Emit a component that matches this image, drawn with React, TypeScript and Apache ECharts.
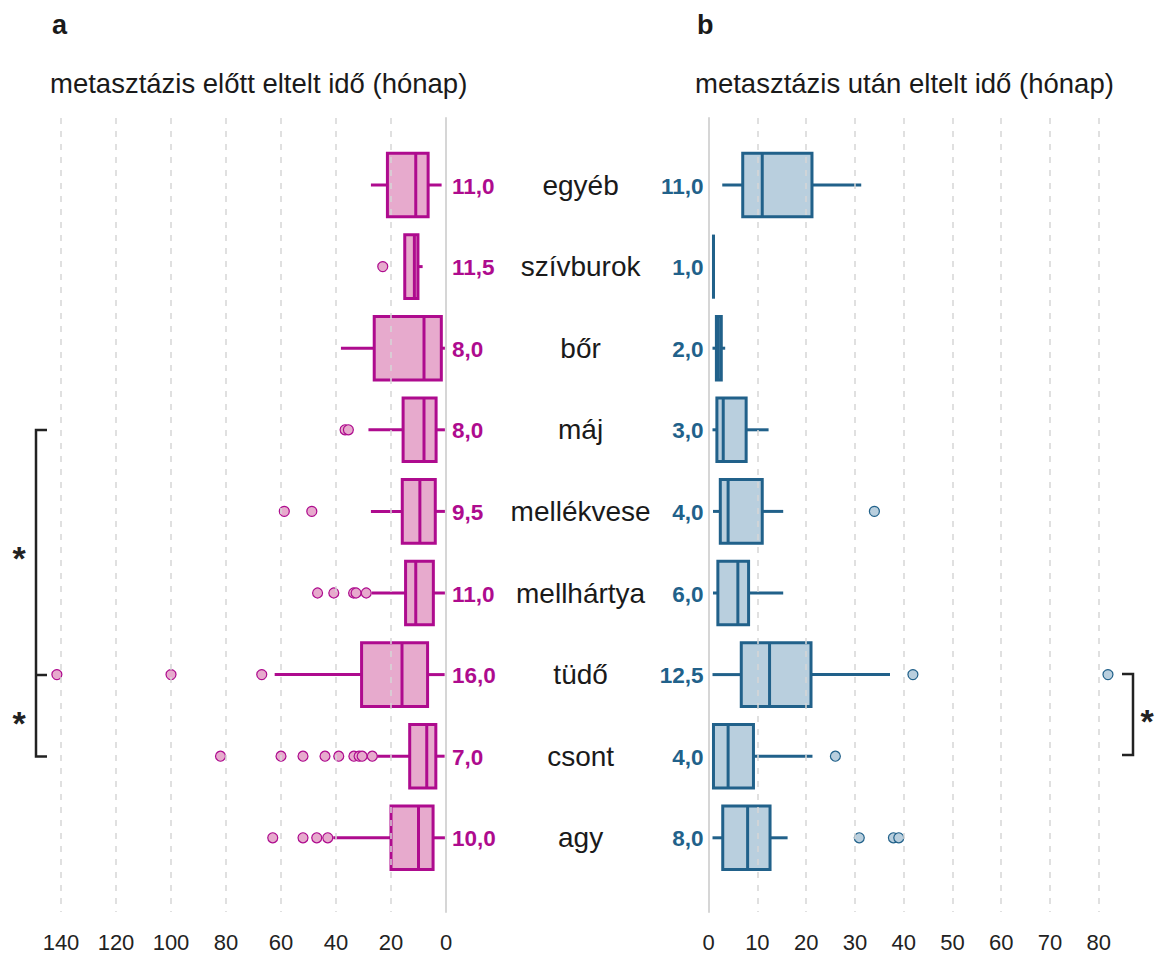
import React, { useEffect, useRef } from 'react';
import * as echarts from 'echarts';

const categories = ['egyéb', 'szívburok', 'bőr', 'máj', 'mellékvese', 'mellhártya', 'tüdő', 'csont', 'agy'];

// a: time before metastasis (months)
const beforeLow = [1.6, 8.5, 0.4, 0.4, 0.4, 0.4, 0.5, 0.5, 0.4];
const beforeQ1 = [6.5, 10.2, 1.7, 3.6, 3.9, 4.6, 6.7, 3.7, 4.7];
const beforeMedian = [11.0, 11.5, 8.0, 8.0, 9.5, 11.0, 16.0, 7.0, 10.0];
const beforeQ3 = [21.3, 15.0, 26.1, 15.6, 15.9, 14.7, 30.7, 13.2, 20.0];
const beforeHigh = [27.3, 15.0, 38.2, 28.2, 27.3, 27.0, 62.3, 25.9, 41.0];
const beforeOutliers: number[][] = [
  [],
  [23],
  [],
  [36.7, 35.5],
  [58.8, 48.8],
  [46.7, 40.8, 33.6, 32.7, 29.0],
  [141.5, 100, 67],
  [82, 60, 52, 44, 39, 33.5, 31.6, 30.5, 26.8],
  [63, 52, 47, 43],
];

// b: time after metastasis (months)
const afterLow = [2.8, 1.0, 0.8, 0.8, 0.9, 0.9, 0.8, 1.0, 0.8];
const afterQ1 = [7.0, 1.0, 1.6, 1.7, 2.4, 1.9, 6.7, 1.0, 2.9];
const afterMedian = [11.0, 1.0, 2.0, 3.0, 4.0, 6.0, 12.5, 4.0, 8.0];
const afterQ3 = [21.2, 1.0, 2.6, 7.7, 11.0, 8.2, 21.0, 9.2, 12.6];
const afterHigh = [31.3, 1.0, 3.4, 12.3, 15.3, 15.3, 37.2, 21.3, 16.2];
const afterOutliers: number[][] = [
  [],
  [],
  [],
  [],
  [34.0],
  [],
  [41.9, 81.9],
  [26.0],
  [30.9, 37.9, 39.0],
];

const leftTicks = { min: 0, max: 140, interval: 20 };
const rightTicks = { min: 0, max: 80, interval: 10 };

const FONT = '"Liberation Sans", Arial, Helvetica, sans-serif';
const PINK = '#ae0b8e';
const PINK_FILL = '#e7aacd';
const BLUE = '#21618a';
const BLUE_FILL = '#b9cfde';
const GRID_COLOR = '#d6d6d6';

const fmt = (v: number) => v.toFixed(1).replace('.', ',');

function makeRenderItem(stroke: string, fill: string, side: 'left' | 'right') {
  return (params: any, api: any) => {
    const idx = api.value(0);
    const low = api.value(1);
    const q1 = api.value(2);
    const med = api.value(3);
    const q3 = api.value(4);
    const high = api.value(5);
    const pLow = api.coord([low, idx]);
    const pQ1 = api.coord([q1, idx]);
    const pMed = api.coord([med, idx]);
    const pQ3 = api.coord([q3, idx]);
    const pHigh = api.coord([high, idx]);
    const p0 = api.coord([0, idx]);
    const band = api.size([0, 1])[1];
    const h = band * 0.78;
    const cy = pMed[1];
    const bx = Math.min(pQ1[0], pQ3[0]);
    const bw = Math.abs(pQ3[0] - pQ1[0]);
    const lw = 3;
    const children: any[] = [
      { type: 'line', shape: { x1: pLow[0], y1: cy, x2: pQ1[0], y2: cy }, style: { stroke, lineWidth: lw } },
      { type: 'line', shape: { x1: pQ3[0], y1: cy, x2: pHigh[0], y2: cy }, style: { stroke, lineWidth: lw } },
      { type: 'rect', shape: { x: bx, y: cy - h / 2, width: bw, height: h }, style: { fill, stroke, lineWidth: lw } },
      { type: 'line', shape: { x1: pMed[0], y1: cy - h / 2, x2: pMed[0], y2: cy + h / 2 }, style: { stroke, lineWidth: lw } },
      {
        type: 'text',
        style: {
          text: fmt(med),
          x: side === 'left' ? p0[0] + 6 : p0[0] - 5,
          y: cy + 1,
          align: side === 'left' ? 'left' : 'right',
          verticalAlign: 'middle',
          textAlign: side === 'left' ? 'left' : 'right',
          textVerticalAlign: 'middle',
          fill: stroke,
          font: `bold 22.5px ${FONT}`,
        },
      },
    ];
    return { type: 'group', children };
  };
}

const overlayAxisCommon = {
  type: 'value' as const,
  z: 10,
  axisLine: { show: false },
  axisTick: { show: false },
  axisLabel: { color: '#222', fontSize: 22, margin: 19, fontFamily: FONT },
  splitLine: { show: true, lineStyle: { color: GRID_COLOR, width: 1.5, type: [6, 7] } },
};

const zeroLineAxis = {
  type: 'value' as const,
  min: 0,
  max: 1,
  z: 10,
  axisLine: { show: true, onZero: false, lineStyle: { color: GRID_COLOR, width: 2 } },
  axisTick: { show: false },
  axisLabel: { show: false },
  splitLine: { show: false },
};

const starStyle = {
  text: '*',
  font: `bold 34px ${FONT}`,
  fill: '#222',
  align: 'center',
  verticalAlign: 'middle',
  textAlign: 'center',
  textVerticalAlign: 'middle',
};

export default function App() {
  const ref = useRef<HTMLDivElement>(null);
  useEffect(() => {
    const chart = echarts.init(ref.current!, null, { renderer: 'svg' });
    const leftBoxes = categories.map((_, i) => [i, beforeLow[i], beforeQ1[i], beforeMedian[i], beforeQ3[i], beforeHigh[i]]);
    const rightBoxes = categories.map((_, i) => [i, afterLow[i], afterQ1[i], afterMedian[i], afterQ3[i], afterHigh[i]]);
    const leftOut: number[][] = [];
    beforeOutliers.forEach((arr, i) => arr.forEach((v) => leftOut.push([v, i])));
    const rightOut: number[][] = [];
    afterOutliers.forEach((arr, i) => arr.forEach((v) => rightOut.push([v, i])));

    const dataTop = 144.2;
    const dataHeight = 734.4;
    const option: any = {
      animation: false,
      textStyle: { fontFamily: FONT },
      grid: [
        { left: 61, top: dataTop, width: 385, height: dataHeight },
        { left: 708.6, top: dataTop, width: 390.1, height: dataHeight },
        { left: 61, top: 118, width: 385, height: 795 },
        { left: 708.6, top: 118, width: 390.1, height: 795 },
      ],
      xAxis: [
        { gridIndex: 0, type: 'value', min: leftTicks.min, max: leftTicks.max, inverse: true, show: false },
        { gridIndex: 1, type: 'value', min: rightTicks.min, max: rightTicks.max, show: false },
        { gridIndex: 2, ...overlayAxisCommon, min: leftTicks.min, max: leftTicks.max, interval: leftTicks.interval, inverse: true },
        { gridIndex: 3, ...overlayAxisCommon, min: rightTicks.min, max: rightTicks.max, interval: rightTicks.interval },
      ],
      yAxis: [
        { gridIndex: 0, type: 'category', data: categories, inverse: true, show: false },
        {
          gridIndex: 1,
          type: 'category',
          data: categories,
          inverse: true,
          axisLine: { show: false },
          axisTick: { show: false },
          axisLabel: { align: 'center', margin: 128, fontSize: 28, color: '#1a1a1a', fontFamily: FONT },
        },
        { gridIndex: 2, ...zeroLineAxis, position: 'right' },
        { gridIndex: 3, ...zeroLineAxis, position: 'left' },
      ],
      series: [
        {
          type: 'custom',
          xAxisIndex: 0,
          yAxisIndex: 0,
          renderItem: makeRenderItem(PINK, PINK_FILL, 'left'),
          encode: { x: [1, 2, 3, 4, 5], y: 0 },
          data: leftBoxes,
          z: 2,
        },
        {
          type: 'scatter',
          xAxisIndex: 0,
          yAxisIndex: 0,
          clip: false,
          symbol: 'circle',
          symbolSize: 10,
          itemStyle: { color: PINK_FILL, borderColor: PINK, borderWidth: 1.2, opacity: 1 },
          data: leftOut,
          z: 3,
        },
        {
          type: 'custom',
          xAxisIndex: 1,
          yAxisIndex: 1,
          renderItem: makeRenderItem(BLUE, BLUE_FILL, 'right'),
          encode: { x: [1, 2, 3, 4, 5], y: 0 },
          data: rightBoxes,
          z: 2,
        },
        {
          type: 'scatter',
          xAxisIndex: 1,
          yAxisIndex: 1,
          clip: false,
          symbol: 'circle',
          symbolSize: 10,
          itemStyle: { color: BLUE_FILL, borderColor: BLUE, borderWidth: 1.2, opacity: 1 },
          data: rightOut,
          z: 3,
        },
      ],
      graphic: [
        { type: 'text', left: 52, top: 11, style: { text: 'a', font: `bold 27px ${FONT}`, fill: '#1a1a1a' } },
        { type: 'text', left: 697, top: 11, style: { text: 'b', font: `bold 27px ${FONT}`, fill: '#1a1a1a' } },
        { type: 'text', left: 50, top: 69, style: { text: 'metasztázis előtt eltelt idő (hónap)', font: `27.5px ${FONT}`, fill: '#1a1a1a' } },
        { type: 'text', left: 695, top: 69, style: { text: 'metasztázis után eltelt idő (hónap)', font: `27.5px ${FONT}`, fill: '#1a1a1a' } },
        {
          type: 'polyline',
          shape: { points: [[47, 430], [36, 430], [36, 756.5], [47, 756.5]] },
          style: { stroke: '#222', lineWidth: 2.5, fill: null },
        },
        { type: 'line', shape: { x1: 36, y1: 675, x2: 47, y2: 675 }, style: { stroke: '#222', lineWidth: 2.5 } },
        {
          type: 'polyline',
          shape: { points: [[1122, 674], [1133, 674], [1133, 755], [1122, 755]] },
          style: { stroke: '#222', lineWidth: 2.5, fill: null },
        },
        { type: 'text', x: 19, y: 558, style: starStyle },
        { type: 'text', x: 19, y: 723, style: starStyle },
        { type: 'text', x: 1147, y: 721, style: starStyle },
      ],
    };
    chart.setOption(option);
    return () => chart.dispose();
  }, []);
  return <div ref={ref} style={{ position: 'absolute', left: 0, top: 0, width: 1155, height: 953 }} />;
}
